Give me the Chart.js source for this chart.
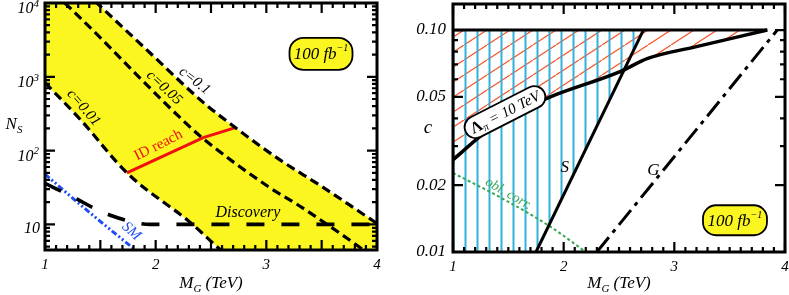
<!DOCTYPE html>
<html>
<head>
<meta charset="utf-8">
<script src="https://cdn.jsdelivr.net/npm/chart.js@4.4.1/dist/chart.umd.min.js"></script>
<style>
  html, body { margin: 0; padding: 0; background: #fff; }
  #wrap { position: relative; width: 789px; height: 295px; }
  #left { position: absolute; left: 0; top: 0; }
  #right { position: absolute; left: 395px; top: 0; }
</style>
</head>
<body>
<div id="wrap">
  <canvas id="left" width="395" height="295"></canvas>
  <canvas id="right" width="394" height="295"></canvas>
</div>
<script>
// ---- left panel: N_S against M_G (TeV) ----
const mgC001 = [1.0, 1.32, 1.74, 2.31, 2.58, 2.8, 3.4, 4.0];
const nsC001 = [832, 263, 50, 10.7, 4.6, 2.4, 0.46, 0.087];
const mgC005 = [1.0, 1.18, 1.52, 1.86, 2.28, 2.43, 3.03, 3.28, 3.87, 4.0];
const nsC005 = [18600, 10000, 3160, 955, 230, 145, 31.6, 18.6, 4.6, 3.3];
const mgC01 = [1.0, 1.47, 1.95, 2.43, 2.72, 3.1, 3.51, 4.0];
const nsC01 = [48000, 10000, 2100, 450, 205, 79, 32, 10.3];
const mgDisc = [1.0, 1.29, 1.43, 1.61, 1.77, 1.95, 4.0];
const nsDisc = [36, 22, 17, 13, 11, 10, 10];
const mgSM = [1.0, 1.34, 1.81, 1.9];
const nsSM = [48, 17.4, 4.6, 3.6];
const mgID = [1.74, 2.43, 2.72];
const nsID = [50, 150, 205];
const nsTicks = [10, 100, 1000, 10000];
const nsTickLabels = ['10', '10^2', '10^3', '10^4'];

// ---- right panel: c against M_G (TeV) ----
const mgLam = [1.0, 1.24, 1.5, 1.88, 2.51, 2.76, 3.19, 3.84];
const cLam = [0.026, 0.033, 0.041, 0.050, 0.065, 0.0745, 0.084, 0.1];
const mgTop = [1.0, 3.84];
const cTop = [0.1, 0.1];
const mgS = [1.75, 2.72];
const cS = [0.01, 0.1];
const mgG = [2.30, 3.93];
const cG = [0.01, 0.1];
const mgObl = [1.0, 1.42, 1.88, 2.2];
const cObl = [0.0227, 0.0177, 0.013, 0.01];
const cTicks = [0.01, 0.02, 0.05, 0.1];
const cTickLabels = ['0.01', '0.02', '0.05', '0.10'];

const mgTicks = [1, 2, 3, 4];

const SERIF = '"Liberation Serif", "DejaVu Serif", serif';
const YELLOW = '#fbf61f';

function pts(xs, ys) {
  return xs.map((x, i) => ({ x, y: ys[i] }));
}

function line(label, data, color, width, dash, extra) {
  return Object.assign({
    label, data, showLine: true,
    borderColor: color, borderWidth: width, borderDash: dash || [],
    pointRadius: 0, pointHoverRadius: 0, fill: false, tension: 0
  }, extra || {});
}

// text pieces: [text, font, dy]
function pieces(ctx, parts, cx, cy, color, align) {
  let w = 0;
  parts.forEach(p => { ctx.font = p[1]; w += ctx.measureText(p[0]).width; });
  let px = align === 'right' ? cx - w : cx - w / 2;
  ctx.fillStyle = color;
  ctx.textBaseline = 'middle';
  ctx.textAlign = 'left';
  parts.forEach(p => {
    ctx.font = p[1];
    ctx.fillText(p[0], px, cy + (p[2] || 0));
    px += ctx.measureText(p[0]).width;
  });
}

// rotated label, lifted off its curve by "lift" pixels
function rotText(ctx, parts, cx, cy, ang, color, lift) {
  ctx.save();
  ctx.translate(cx, cy);
  ctx.rotate(ang * Math.PI / 180);
  pieces(ctx, parts, 0, -(lift || 0), color);
  ctx.restore();
}

function box(ctx, cx, cy, w, h, r, ang, fill, parts) {
  ctx.save();
  ctx.translate(cx, cy);
  ctx.rotate(ang * Math.PI / 180);
  ctx.beginPath();
  ctx.roundRect(-w / 2, -h / 2, w, h, r);
  ctx.fillStyle = fill;
  ctx.fill();
  ctx.lineWidth = 1.8;
  ctx.strokeStyle = '#000';
  ctx.stroke();
  pieces(ctx, parts, 0, 0, '#000');
  ctx.restore();
}

const lumiText = [
  ['100 fb', 'italic 17px ' + SERIF, 1],
  ['−1', 'italic 10px ' + SERIF, -5]
];

function frame(xSet, ySet) {
  return {
    id: 'frame',
    afterDatasetsDraw(chart) {
      const { ctx, chartArea: a, scales: { x, y } } = chart;
      ctx.save();
      ctx.strokeStyle = '#000';
      ctx.lineWidth = 2.2;
      ctx.beginPath();
      xSet.forEach(([v, len]) => {
        const p = x.getPixelForValue(v);
        ctx.moveTo(p, a.bottom); ctx.lineTo(p, a.bottom - len);
        ctx.moveTo(p, a.top); ctx.lineTo(p, a.top + len);
      });
      ySet.forEach(([v, len]) => {
        const p = y.getPixelForValue(v);
        ctx.moveTo(a.left, p); ctx.lineTo(a.left + len, p);
        ctx.moveTo(a.right, p); ctx.lineTo(a.right - len, p);
      });
      ctx.stroke();
      ctx.lineWidth = 3;
      ctx.strokeRect(a.left, a.top, a.right - a.left, a.bottom - a.top);
      ctx.restore();
    }
  };
}

function xTickSet(halfLong) {
  const out = [];
  for (let i = 10; i <= 40; i++) {
    const long = i % 10 === 0 || (halfLong && i % 5 === 0);
    out.push([i / 10, long ? 10 : 5]);
  }
  return out;
}

const leftYSet = [];
[1, 10, 100, 1000].forEach(d => {
  for (let m = 2; m <= 9; m++) if (d * m >= 4.5) leftYSet.push([d * m, 5]);
});
nsTicks.forEach(v => leftYSet.push([v, 10]));

const rightYSet = [[0.03, 5], [0.04, 5], [0.06, 5], [0.07, 5], [0.08, 5], [0.09, 5]];
cTicks.forEach(v => rightYSet.push([v, 10]));

const tickFont = { family: SERIF, size: 15, style: 'italic' };

function xScale(height) {
  return {
    type: 'linear', min: 1, max: 4,
    afterBuildTicks: s => { s.ticks = mgTicks.map(v => ({ value: v })); },
    ticks: { font: tickFont, color: '#000', padding: 6, maxRotation: 0, autoSkip: false, callback: v => String(v) },
    grid: { display: false, drawTicks: false },
    border: { display: false },
    afterFit: s => { s.height = height; s.paddingLeft = 0; s.paddingRight = 0; }
  };
}

function yScale(min, max, ticks, labels, width, pad, show) {
  return {
    type: 'logarithmic', min, max,
    afterBuildTicks: s => { s.ticks = ticks.map(v => ({ value: v })); },
    ticks: {
      display: show, font: { family: SERIF, size: 17, style: 'italic' }, color: '#000',
      padding: pad, autoSkip: false, callback: v => labels[ticks.indexOf(v)]
    },
    grid: { display: false, drawTicks: false },
    border: { display: false },
    afterFit: s => { s.width = width; s.paddingTop = 0; s.paddingBottom = 0; }
  };
}

const baseOpts = {
  responsive: false,
  animation: false,
  devicePixelRatio: 1,
  events: []
};

// ---------- left chart ----------
new Chart(document.getElementById('left'), {
  type: 'scatter',
  data: {
    datasets: [
      line('c=0.01', pts(mgC001, nsC001), '#000', 3.2, [9, 5], { fill: 2, backgroundColor: YELLOW, cubicInterpolationMode: 'monotone' }),
      line('c=0.05', pts(mgC005, nsC005), '#000', 3.2, [9, 5], { cubicInterpolationMode: 'monotone' }),
      line('c=0.1', pts(mgC01, nsC01), '#000', 3.2, [9, 5], { cubicInterpolationMode: 'monotone' }),
      line('Discovery', pts(mgDisc, nsDisc), '#000', 3.6, [18, 17], { cubicInterpolationMode: 'monotone' }),
      line('SM', pts(mgSM, nsSM), '#1f4ef5', 3, [6, 2.5, 2, 2.5, 2, 2.5], { cubicInterpolationMode: 'monotone' }),
      line('ID reach', pts(mgID, nsID), '#f01010', 3, [])
    ]
  },
  options: Object.assign({}, baseOpts, {
    layout: { padding: { top: 3, right: 18, left: 0, bottom: 0 } },
    plugins: { legend: { display: false }, tooltip: { enabled: false }, filler: { drawTime: 'beforeDatasetsDraw' } },
    scales: {
      x: xScale(45),
      y: yScale(4.5, 10000, nsTicks, nsTickLabels, 45, 5, false)
    }
  }),
  plugins: [frame(xTickSet(true), leftYSet), {
    id: 'notesLeft',
    afterDraw(chart) {
      const { ctx, chartArea: a, scales: { x, y } } = chart;
      const P = (m, v) => [x.getPixelForValue(m), y.getPixelForValue(v)];
      const it = s => 'italic ' + s + 'px ' + SERIF;
      // y tick labels with superscript exponents
      nsTicks.forEach((v, i) => {
        const [base, exp] = nsTickLabels[i].split('^');
        const py = y.getPixelForValue(v);
        if (exp) pieces(ctx, [[base, it(16), 6], [exp, it(11), 1]], a.left - 6, py, '#000', 'right');
        else pieces(ctx, [[base, it(16), 4]], a.left - 5, py, '#000', 'right');
      });
      rotText(ctx, [['c=0.1', it(15)]], ...P(2.33, 800), 38, '#000', 4);
      rotText(ctx, [['c=0.05', it(15)]], ...P(2.04, 620), 43, '#000', 6);
      rotText(ctx, [['c=0.01', it(15)]], ...P(1.3, 330), 49, '#000', 7);
      rotText(ctx, [['ID reach', '15px ' + SERIF]], ...P(2.05, 100), -27, '#f01010', 6);
      rotText(ctx, [['Discovery', it(16)]], ...P(2.834, 14.5), 0, '#000', 0);
      rotText(ctx, [['SM', it(15)]], ...P(1.75, 7.2), 42, '#1f4ef5', 5);
      box(ctx, ...P(3.494, 2046), 63, 32, 14, 0, YELLOW, lumiText);
      // axis titles
      pieces(ctx, [['M', it(17)], ['G', it(11), 5], [' (TeV)', it(17)]], (a.left + a.right) / 2, 284, '#000');
      pieces(ctx, [['N', it(17)], ['S', it(11), 5]], 14, 125, '#000');
    }
  }]
});

// ---------- right chart ----------
const rctx = document.getElementById('right').getContext('2d');

function hatch(w, h, color, lw, draw) {
  const c = document.createElement('canvas');
  c.width = w; c.height = h;
  const g = c.getContext('2d');
  g.strokeStyle = color;
  g.lineWidth = lw;
  g.beginPath();
  draw(g, w, h);
  g.stroke();
  return rctx.createPattern(c, 'repeat');
}

const bluePattern = hatch(12, 12, '#30b0da', 2, (g, w, h) => { g.moveTo(10.5, 0); g.lineTo(10.5, h); });
const redPattern = hatch(23, 15, '#f5552a', 1.2, (g, w, h) => { g.moveTo(-w, 2 * h); g.lineTo(2 * w, -h); });

// hatched regions built from the curves above
const blueRegion = [{ x: mgTop[0], y: cS[0] }, { x: mgTop[0], y: cTop[0] }, { x: mgS[1], y: cS[1] }, { x: mgS[0], y: cS[0] }];
const redRegion = pts(mgLam, cLam).concat([{ x: mgTop[0], y: cTop[0] }]);

new Chart(rctx, {
  type: 'scatter',
  data: {
    datasets: [
      line('Lambda = 10 TeV', pts(mgLam, cLam), '#000', 3.5, [], { cubicInterpolationMode: 'monotone' }),
      line('top', pts(mgTop, cTop), '#000', 3, []),
      line('S', pts(mgS, cS), '#000', 3, []),
      line('G', pts(mgG, cG), '#000', 3, [19, 6, 4, 6]),
      line('obl. corr.', pts(mgObl, cObl), '#35a854', 2, [3, 2.5], { cubicInterpolationMode: 'monotone' }),
      line('S region', blueRegion, 'rgba(0,0,0,0)', 0, [], { fill: 'shape', backgroundColor: bluePattern }),
      line('Lambda region', redRegion, 'rgba(0,0,0,0)', 0, [], { fill: 'shape', backgroundColor: redPattern })
    ]
  },
  options: Object.assign({}, baseOpts, {
    layout: { padding: { top: 4, right: 4, left: 0, bottom: 0 } },
    plugins: { legend: { display: false }, tooltip: { enabled: false }, filler: { drawTime: 'beforeDatasetsDraw' } },
    scales: {
      x: xScale(43),
      y: yScale(0.01, 0.131, cTicks, cTickLabels, 58, 7, true)
    }
  }),
  plugins: [frame(xTickSet(false), rightYSet), {
    id: 'notesRight',
    afterDraw(chart) {
      const { ctx, chartArea: a, scales: { x, y } } = chart;
      const P = (m, v) => [x.getPixelForValue(m), y.getPixelForValue(v)];
      const it = s => 'italic ' + s + 'px ' + SERIF;
      box(ctx, ...P(1.47, 0.0427), 88, 22, 11, -27, '#fff', [
        ['Λ', 'bold 16px ' + SERIF, 1], ['π', it(11), 5], [' = 10 TeV', it(15), 1]
      ]);
      rotText(ctx, [['S', it(17)]], ...P(2.01, 0.0239), 0, '#000', 0);
      rotText(ctx, [['G', it(17)]], ...P(2.81, 0.0234), 0, '#000', 0);
      rotText(ctx, [['obl. corr.', it(14)]], ...P(1.5, 0.0183), 30, '#35a854', 0);
      box(ctx, ...P(3.548, 0.0139), 64, 30, 13, 0, YELLOW, lumiText);
      pieces(ctx, [['M', it(17)], ['G', it(11), 5], [' (TeV)', it(17)]], (a.left + a.right) / 2, 284, '#000');
      pieces(ctx, [['c', it(19)]], 33, 128, '#000');
    }
  }]
});
</script>
</body>
</html>
